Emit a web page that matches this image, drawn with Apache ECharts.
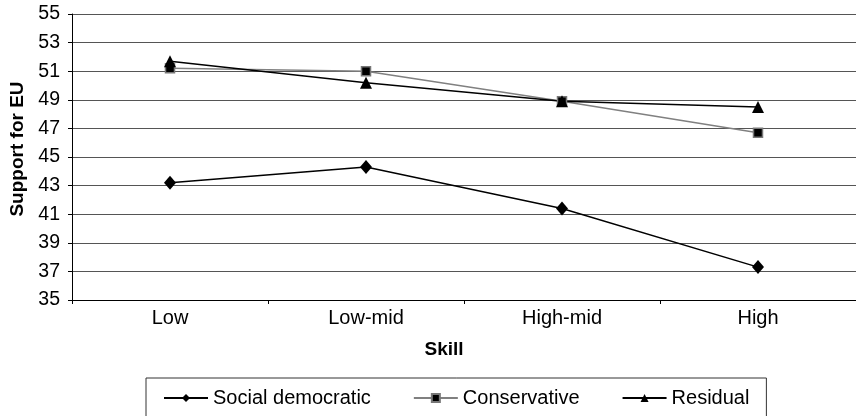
<!DOCTYPE html>
<html>
<head>
<meta charset="utf-8">
<script src="https://cdn.jsdelivr.net/npm/echarts@6/dist/echarts.min.js"></script>
<style>
  html, body { margin: 0; padding: 0; background: #fff; }
  #chart { width: 856px; height: 416px; }
</style>
</head>
<body>
<div id="chart"></div>
<script>
// skill categories on the x axis
var skills = ['Low', 'Low-mid', 'High-mid', 'High'];
// support for EU by party family
var socialDemocratic = [43.2, 44.3, 41.4, 37.3];
var conservative = [51.2, 51.0, 48.9, 46.7];
var residual = [51.7, 50.2, 48.9, 48.5];

var font = 'Liberation Sans, Arial, sans-serif';

var myChart = echarts.init(document.getElementById('chart'), null, { renderer: 'canvas' });
myChart.setOption({
  animation: false,
  textStyle: { fontFamily: font, color: '#000' },
  grid: { left: 72, top: 14, width: 790, height: 286 },
  legend: {
    left: 146,
    top: 378,
    padding: [10, 17, 10, 17],
    itemGap: 42,
    itemWidth: 44,
    itemHeight: 10,
    borderColor: '#333',
    borderWidth: 1,
    textStyle: { fontSize: 20, color: '#000', fontFamily: font },
    data: ['Social democratic', 'Conservative', 'Residual']
  },
  xAxis: {
    type: 'category',
    data: skills,
    boundaryGap: true,
    name: 'Skill',
    nameLocation: 'middle',
    nameGap: 40,
    nameTextStyle: { fontSize: 19, fontWeight: 'bold', color: '#000', padding: [0, 40, 0, 0] },
    axisLine: { lineStyle: { color: '#000', width: 1 } },
    axisTick: { show: true, length: 4, alignWithLabel: false, lineStyle: { color: '#000' } },
    axisLabel: { fontSize: 20, color: '#000', margin: 8 },
    splitLine: { show: false }
  },
  yAxis: {
    type: 'value',
    min: 35,
    max: 55,
    interval: 2,
    name: 'Support for EU',
    nameLocation: 'middle',
    nameGap: 34,
    nameTextStyle: { fontSize: 19, fontWeight: 'bold', color: '#000', padding: [0, 0, 0, 16] },
    axisLine: { show: true, lineStyle: { color: '#000', width: 1 } },
    axisTick: { show: true, length: 4, lineStyle: { color: '#000' } },
    axisLabel: { fontSize: 19.5, color: '#000', margin: 12 },
    splitLine: { show: true, lineStyle: { color: '#555', width: 1 } }
  },
  series: [
    {
      name: 'Social democratic',
      type: 'line',
      data: socialDemocratic,
      symbol: 'diamond',
      symbolSize: [12, 14],
      lineStyle: { color: '#000', width: 1.5 },
      itemStyle: { color: '#000' }
    },
    {
      name: 'Conservative',
      type: 'line',
      data: conservative,
      symbol: 'rect',
      symbolSize: 9,
      lineStyle: { color: '#808080', width: 1.5 },
      itemStyle: { color: '#000', borderColor: '#777', borderWidth: 1.5 }
    },
    {
      name: 'Residual',
      type: 'line',
      data: residual,
      symbol: 'triangle',
      symbolSize: 12,
      lineStyle: { color: '#000', width: 1.5 },
      itemStyle: { color: '#000' }
    }
  ]
});
</script>
</body>
</html>
